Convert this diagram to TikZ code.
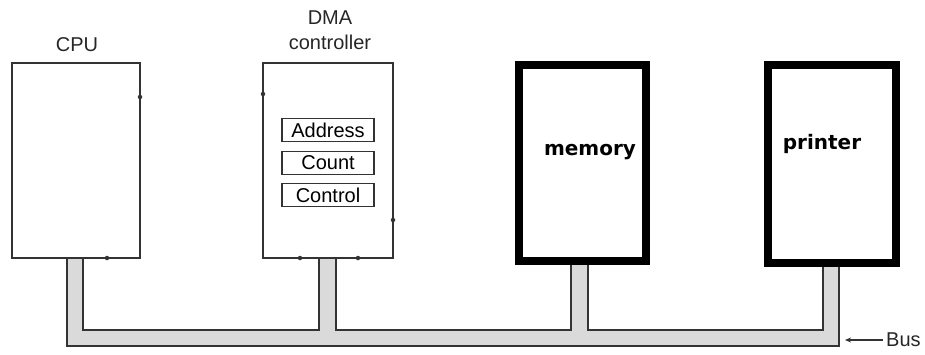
\documentclass[tikz,border=0pt]{standalone}
\usepackage{fontspec}
\setmainfont{Liberation Sans}
\newfontfamily\labelbold{DejaVu Sans}
\usetikzlibrary{arrows.meta}
\definecolor{linegray}{HTML}{333333}
\definecolor{busfill}{HTML}{DADADA}
\begin{document}
\begin{tikzpicture}[x=1pt,y=-1pt,
  thinbox/.style={draw=linegray,line width=1.7pt,fill=white,inner sep=0pt,minimum width=#1},
  thickbox/.style={draw=black,line width=7.5pt,fill=white,inner sep=0pt},
  regbox/.style={draw=linegray,line width=1.6pt,inner sep=0pt,minimum width=92pt,minimum height=23pt,font=\fontsize{20}{20}\selectfont},
  lbl/.style={font=\fontsize{20}{25}\selectfont,text=black!85,align=center,inner sep=0pt},
  boldlbl/.style={font=\labelbold\bfseries\fontsize{20}{22}\selectfont,inner sep=0pt},
  busline/.style={draw=linegray,line width=1.5pt},
  pin/.style={fill=linegray,circle,inner sep=0pt,minimum size=4.5pt}
]
\useasboundingbox (0,0) rectangle (925,354);

% bus shape
\coordinate (b1) at (67,258);
\coordinate (b2) at (67,346);
\coordinate (b3) at (839,346);
\coordinate (b4) at (839,266);
\coordinate (b5) at (823,266);
\coordinate (b6) at (823,330);
\coordinate (b7) at (588,330);
\coordinate (b8) at (588,265);
\coordinate (b9) at (571,265);
\coordinate (b10) at (571,330);
\coordinate (b11) at (336,330);
\coordinate (b12) at (336,258);
\coordinate (b13) at (319,258);
\coordinate (b14) at (319,330);
\coordinate (b15) at (83,330);
\coordinate (b16) at (83,258);
\fill[busfill] (b1) -- (b2) -- (b3) -- (b4) -- (b5) -- (b6) -- (b7) -- (b8) -- (b9) -- (b10) -- (b11) -- (b12) -- (b13) -- (b14) -- (b15) -- (b16) -- cycle;
\draw[busline] (b1) -- (b2) -- (b3) -- (b4);
\draw[busline] (b5) -- (b6) -- (b7) -- (b8);
\draw[busline] (b9) -- (b10) -- (b11) -- (b12);
\draw[busline] (b13) -- (b14) -- (b15) -- (b16);

% boxes
\node[thinbox=128pt,minimum height=195pt] (cpu) at (76,160.5) {};
\node[thinbox=130pt,minimum height=195pt] (dma) at (328,160.5) {};
\node[thickbox,minimum width=127pt,minimum height=196pt] (mem) at (582.5,163) {};
\node[thickbox,minimum width=128pt,minimum height=198pt] (prn) at (832,164) {};

% labels
\node[lbl] (cpulbl) at (77,45) {CPU};
\node[lbl] (dmalbl) at (330,30) {DMA\\controller};
\node[boldlbl] (memlbl) at (590,152) {memory};
\node[boldlbl] (prnlbl) at (822,144) {printer};

% registers
\node[regbox] (addr) at (328,130) {Address};
\node[regbox] (count) at (328,163) {Count};
\node[regbox] (ctrl) at (328,195) {Control};

% pins
\node[pin] (p1) at (140,97) {};
\node[pin] (p2) at (107,258) {};
\node[pin] (p3) at (263,94) {};
\node[pin] (p4) at (393,220) {};
\node[pin] (p5) at (300,258) {};
\node[pin] (p6) at (358,258) {};

% bus label
\node[lbl,anchor=west] (buslbl) at (886,340) {Bus};
\coordinate (arrowtip) at (845,340);
\draw[linegray,line width=1.4pt,-{Stealth[length=6pt,width=5pt]}] (buslbl.west) ++(-3,0) -- (arrowtip);
\end{tikzpicture}
\end{document}
